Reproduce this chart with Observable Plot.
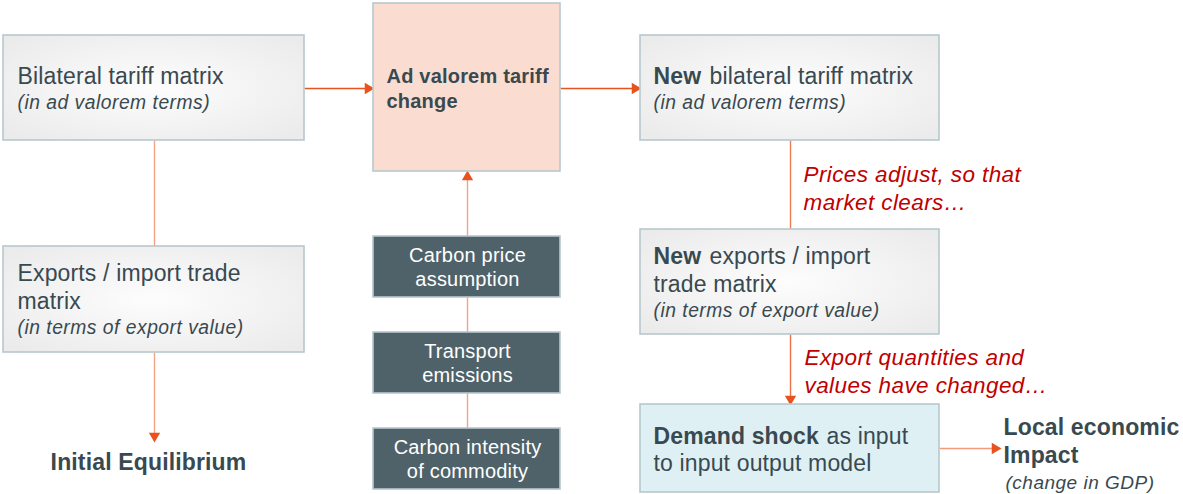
<!DOCTYPE html>
<html>
<head>
<meta charset="utf-8">
<script src="https://cdn.jsdelivr.net/npm/d3@7"></script>
<script src="https://cdn.jsdelivr.net/npm/@observablehq/plot@0.6"></script>
<style>
  html, body { margin: 0; padding: 0; background: #ffffff; }
  #chart svg { display: block; }
</style>
</head>
<body>
<div id="chart"></div>
<script>
// ---- Diagram data (layout in diagram units) ----
const boxes = [
  {id: "tariff",   x1: 3,   x2: 304, y1: 35,  y2: 140, kind: "gray"},
  {id: "change",   x1: 373, x2: 560, y1: 3,   y2: 171, kind: "peach"},
  {id: "newTariff",x1: 640, x2: 939, y1: 35,  y2: 140, kind: "gray"},
  {id: "trade",    x1: 3,   x2: 304, y1: 246, y2: 352, kind: "gray"},
  {id: "price",    x1: 373, x2: 560, y1: 236, y2: 297, kind: "dark"},
  {id: "transport",x1: 373, x2: 560, y1: 332, y2: 393, kind: "dark"},
  {id: "intensity",x1: 373, x2: 560, y1: 428, y2: 489, kind: "dark"},
  {id: "newTrade", x1: 640, x2: 939, y1: 229, y2: 334, kind: "gray"},
  {id: "demand",   x1: 640, x2: 939, y1: 404, y2: 492, kind: "blue"}
];
const boxFill = {gray: "url(#grayGrad)", peach: "#fbdcd0", dark: "#4f626a", blue: "#dff0f5"};

// connectors: from point to point, head = arrowhead at end
const connectors = [
  {x1: 304, y1: 88,  x2: 373, y2: 88,  line: "#e8521e", head: true},
  {x1: 560, y1: 88,  x2: 640, y2: 88,  line: "#e8521e", head: true},
  {x1: 154, y1: 140, x2: 154, y2: 246, line: "#f4a384", head: false},
  {x1: 154, y1: 352, x2: 154, y2: 441, line: "#f4a384", head: true},
  {x1: 467, y1: 236, x2: 467, y2: 171, line: "#f4a384", head: true},
  {x1: 467, y1: 297, x2: 467, y2: 332, line: "#f4a384", head: false},
  {x1: 467, y1: 393, x2: 467, y2: 428, line: "#f4a384", head: false},
  {x1: 790, y1: 140, x2: 790, y2: 229, line: "#ee7c52", head: false},
  {x1: 790, y1: 334, x2: 790, y2: 404, line: "#ee7044", head: true},
  {x1: 939, y1: 448, x2: 1000, y2: 448, line: "#f39a78", head: true}
];
const headColor = "#e8521e";

const regularText = [
  {t: "Bilateral tariff matrix", x: 17, y: 76},
  {t: "bilateral tariff matrix", x: 709, y: 76},
  {t: "Exports / import trade", x: 17, y: 273},
  {t: "matrix", x: 17, y: 301},
  {t: "exports / import", x: 709, y: 256},
  {t: "trade matrix", x: 653, y: 284},
  {t: "as input", x: 826, y: 436},
  {t: "to input output model", x: 653, y: 463}
];
const italicText = [
  {t: "(in ad valorem terms)", x: 17, y: 102},
  {t: "(in ad valorem terms)", x: 653, y: 102},
  {t: "(in terms of export value)", x: 17, y: 327},
  {t: "(in terms of export value)", x: 653, y: 310}
];
const boldText = [
  {t: "New", x: 653, y: 76},
  {t: "New", x: 653, y: 256},
  {t: "Demand shock", x: 653, y: 436},
  {t: "Local economic", x: 1003, y: 427},
  {t: "Impact", x: 1003, y: 455}
];
const smallItalic = [{t: "(change in GDP)", x: 1005, y: 482}];
const centerBold = [{t: "Initial Equilibrium", x: 148, y: 462}];
const changeText = [
  {t: "Ad valorem tariff", x: 386, y: 76},
  {t: "change", x: 386, y: 101}
];
const darkText = [
  {t: "Carbon price", x: 467, y: 255},
  {t: "assumption", x: 467, y: 279},
  {t: "Transport", x: 467, y: 351},
  {t: "emissions", x: 467, y: 375},
  {t: "Carbon intensity", x: 467, y: 447},
  {t: "of commodity", x: 467, y: 471}
];
const noteText = [
  {t: "Prices adjust, so that", x: 803, y: 174},
  {t: "market clears…", x: 803, y: 202},
  {t: "Export quantities and", x: 804, y: 357},
  {t: "values have changed…", x: 804, y: 385}
];

// ---- arrowhead geometry derived from connectors ----
const heads = connectors.filter(d => d.head).map(d => {
  const dx = d.x2 - d.x1, dy = d.y2 - d.y1;
  const len = Math.hypot(dx, dy);
  const ux = dx / len, uy = dy / len;
  const back = 5.5; // centroid offset behind tip
  const angle = Math.atan2(dy, dx) * 180 / Math.PI + 90;
  return {x: d.x2 - ux * back, y: d.y2 - uy * back, rotate: angle};
});
const lines = connectors.map(d => {
  const dx = d.x2 - d.x1, dy = d.y2 - d.y1;
  const len = Math.hypot(dx, dy);
  const trim = d.head ? 6 : 0;
  return {...d, x2: d.x2 - dx / len * trim, y2: d.y2 - dy / len * trim};
});

const FONT = "Liberation Sans, Arial, Helvetica, sans-serif";
const TXT = "#394950";

function txt(data, opts) {
  return Plot.text(data, {x: "x", y: "y", text: "t", lineAnchor: "middle", fontFamily: FONT, ...opts});
}

// letter-spacing per text group (in mark order)
const spacing = [0.15, 0.5, 0.15, 0.5, 0.15, 0.2, 0.2, 0.4];

const plot = Plot.plot({
  width: 1183,
  height: 494,
  margin: 0,
  x: {domain: [0, 1183], range: [0, 1183], axis: null},
  y: {domain: [0, 494], range: [0, 494], axis: null},
  style: {fontFamily: FONT, background: "#ffffff"},
  marks: [
    Plot.link(lines, {x1: "x1", y1: "y1", x2: "x2", y2: "y2", stroke: d => d.line, strokeWidth: 1.4}),
    Plot.dot(heads, {x: "x", y: "y", rotate: "rotate", symbol: "triangle", r: 4.2, fill: headColor, stroke: "none"}),
    Plot.rect(boxes, {x1: "x1", x2: "x2", y1: "y1", y2: "y2", fill: d => boxFill[d.kind], stroke: "#b7c8ce", strokeWidth: 1.6}),
    txt(regularText, {textAnchor: "start", fontSize: 23, fill: TXT}),
    txt(italicText, {textAnchor: "start", fontSize: 19.3, fontStyle: "italic", fill: TXT}),
    txt(boldText, {textAnchor: "start", fontSize: 23, fontWeight: "bold", fill: TXT}),
    txt(smallItalic, {textAnchor: "start", fontSize: 19, fontStyle: "italic", fill: TXT}),
    txt(centerBold, {textAnchor: "middle", fontSize: 23, fontWeight: "bold", fill: TXT}),
    txt(changeText, {textAnchor: "start", fontSize: 20, fontWeight: "bold", fill: TXT}),
    txt(darkText, {textAnchor: "middle", fontSize: 20, fill: "#ffffff"}),
    txt(noteText, {textAnchor: "start", fontSize: 22.5, fontStyle: "italic", fill: "#c00000"})
  ]
});

d3.select(plot).selectAll("g[aria-label='text']").each(function(d, i) {
  this.style.letterSpacing = (spacing[i] ?? 0) + "px";
});

const defs = d3.select(plot).insert("defs", ":first-child");
const g = defs.append("radialGradient").attr("id", "grayGrad").attr("cx", "50%").attr("cy", "50%").attr("r", "65%");
g.append("stop").attr("offset", "0%").attr("stop-color", "#fdfdfd");
g.append("stop").attr("offset", "100%").attr("stop-color", "#ebebeb");

document.getElementById("chart").appendChild(plot);
</script>
</body>
</html>
